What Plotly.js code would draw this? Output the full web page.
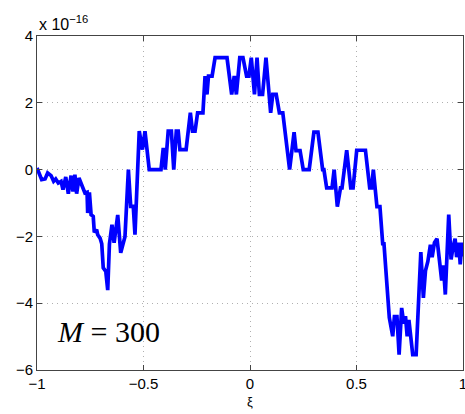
<!DOCTYPE html>
<html>
<head>
<meta charset="utf-8">
<script src="https://cdn.plot.ly/plotly-3.0.1.min.js"></script>
<style>html,body{margin:0;padding:0;background:#fff;}#plot{width:465px;height:414px;}</style>
</head>
<body>
<div id="plot"></div>
<script>
// xi values
const xi = [-1.000,-0.978,-0.962,-0.950,-0.934,-0.922,-0.912,-0.900,-0.887,-0.878,
-0.865,-0.853,-0.840,-0.831,-0.822,-0.814,-0.803,-0.790,-0.775,-0.765,
-0.762,-0.754,-0.746,-0.736,-0.731,-0.720,-0.715,-0.704,-0.696,-0.689,
-0.677,-0.668,-0.660,-0.648,-0.638,-0.621,-0.607,-0.587,-0.571,-0.560,
-0.548,-0.540,-0.520,-0.505,-0.493,-0.473,-0.418,-0.408,-0.404,-0.398,
-0.384,-0.369,-0.358,-0.346,-0.337,-0.329,-0.300,-0.280,-0.270,-0.258,
-0.246,-0.221,-0.211,-0.202,-0.195,-0.178,-0.164,-0.108,-0.086,-0.074,
-0.064,-0.048,-0.033,-0.016,-0.005,0.006,0.021,0.033,0.044,0.059,
0.075,0.097,0.107,0.123,0.138,0.154,0.186,0.207,0.216,0.235,
0.250,0.278,0.300,0.319,0.341,0.347,0.360,0.385,0.395,0.410,
0.425,0.432,0.454,0.473,0.484,0.501,0.542,0.562,0.571,0.579,
0.596,0.610,0.623,0.629,0.654,0.670,0.678,0.690,0.700,0.712,
0.722,0.730,0.738,0.746,0.755,0.764,0.780,0.802,0.814,0.824,
0.835,0.847,0.855,0.866,0.878,0.886,0.900,0.908,0.917,0.933,
0.944,0.954,0.963,0.970,0.980,0.987,0.994,1.000];
// error values, in units of 1e-16
const err = [0.05,-0.30,-0.28,-0.10,-0.18,-0.35,-0.28,-0.40,-0.35,-0.60,
-0.22,-0.72,-0.18,-0.66,-0.15,-0.72,-0.25,-0.48,-0.70,-0.68,
-1.30,-0.68,-1.35,-1.40,-1.88,-1.80,-1.95,-2.05,-2.22,-2.94,
-3.05,-3.61,-2.23,-1.65,-2.19,-1.36,-2.49,-2.01,0.00,-1.10,
-1.10,-1.95,1.15,0.60,1.15,0.00,0.00,0.60,0.60,0.00,
1.15,1.15,0.00,1.15,1.15,0.60,0.60,1.70,1.15,1.15,
1.70,1.70,2.80,2.25,2.80,2.80,3.35,3.35,2.25,2.80,
2.25,3.35,3.35,2.80,2.80,3.35,2.25,3.35,2.25,2.25,
3.35,1.70,2.25,2.25,1.70,1.70,0.00,1.12,0.57,0.57,
0.00,0.00,1.12,1.12,0.00,0.00,-0.55,-0.55,0.00,-1.11,
-0.55,-0.55,0.58,-0.55,-0.55,0.58,0.58,-0.55,-0.55,0.00,
-1.11,-1.11,-2.22,-2.22,-4.43,-4.99,-4.40,-4.40,-5.54,-4.14,
-4.61,-4.39,-4.99,-4.50,-4.99,-5.54,-5.54,-2.47,-3.84,-3.02,
-2.75,-2.25,-2.62,-2.19,-2.07,-2.63,-3.32,-2.87,-3.74,-1.35,
-2.69,-2.30,-2.07,-2.62,-2.19,-2.84,-2.19,-2.60];
const xTicks = [-1,-0.5,0,0.5,1];
const xTickText = ['\u22121','\u22120.5','0','0.5','1'];
const yTicks = [-6,-4,-2,0,2,4];
const yTickText = ['\u22126','\u22124','\u22122','0','2','4'];

const axisCommon = {
  showline: true, linecolor: '#444', linewidth: 1, mirror: 'ticks',
  ticks: 'inside', ticklen: 5, tickcolor: '#444', tickwidth: 1,
  showgrid: true, gridcolor: '#b0b0b0', griddash: '1px,4px', gridwidth: 1,
  zeroline: false, ticklabeloverflow: 'allow',
  tickfont: {family: 'Liberation Sans, Arial, sans-serif', size: 15, color: '#000'}
};

const layout = {
  width: 465, height: 414,
  margin: {l: 37, r: 2, t: 36, b: 44},
  paper_bgcolor: '#fff', plot_bgcolor: '#fff',
  showlegend: false,
  xaxis: Object.assign({}, axisCommon, {
    range: [-1, 1], tickvals: xTicks, ticktext: xTickText,
    title: {text: '\u03be', font: {family: 'Liberation Sans, Arial, sans-serif', size: 13, color: '#000'}, standoff: 5}
  }),
  yaxis: Object.assign({}, axisCommon, {
    range: [-6, 4], tickvals: yTicks, ticktext: yTickText
  }),
  annotations: [
    {xref: 'paper', yref: 'paper', x: 0.0, y: 1.0, xanchor: 'left', yanchor: 'bottom',
     yshift: 1, showarrow: false, text: 'x 10<sup>\u221216</sup>',
     font: {family: 'Liberation Sans, Arial, sans-serif', size: 16, color: '#000'}},
    {xref: 'x', yref: 'y', x: -0.665, y: -4.85, showarrow: false,
     text: '<i>M</i> = 300',
     font: {family: 'Liberation Serif, Times New Roman, serif', size: 30, color: '#000'}}
  ]
};

Plotly.newPlot('plot', [{
  x: xi, y: err, type: 'scatter', mode: 'lines',
  line: {color: '#0000ff', width: 3.7}
}], layout, {staticPlot: true, displayModeBar: false});
</script>
</body>
</html>
